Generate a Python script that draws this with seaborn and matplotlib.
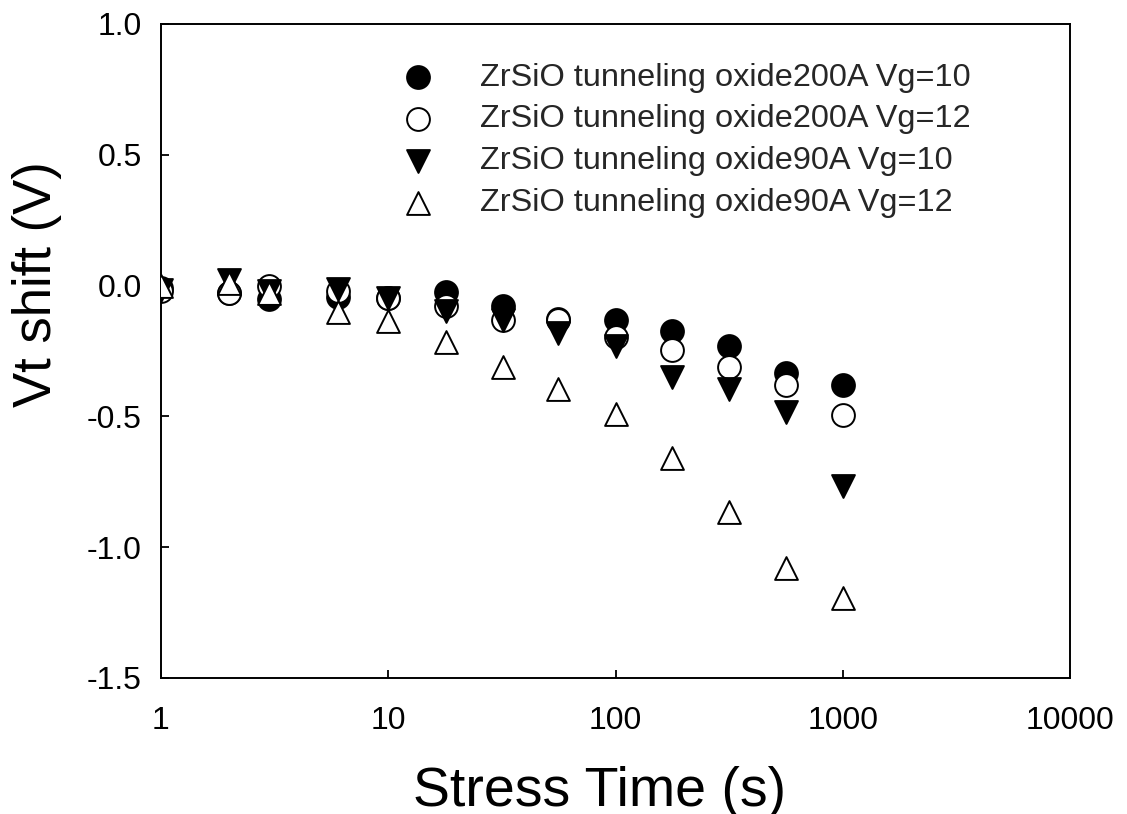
import matplotlib
matplotlib.use("Agg")
import matplotlib.pyplot as plt
import matplotlib.ticker as mticker
import numpy as np
import pandas as pd
import seaborn as sns

# Stress time (s) and threshold-voltage shift (V) for each stress condition
stress_time = [1, 2, 3, 6, 10, 18, 32, 56, 100, 178, 316, 562, 1000]
vt_200A_vg10 = [-0.01, -0.03, -0.05, -0.045, -0.047, -0.025, -0.078, -0.127, -0.132, -0.172, -0.23, -0.334, -0.38]
vt_200A_vg12 = [-0.02, -0.03, 0.0, -0.02, -0.047, -0.078, -0.13, -0.13, -0.195, -0.247, -0.31, -0.38, -0.495]
vt_90A_vg10 = [-0.015, 0.02, -0.02, -0.013, -0.047, -0.097, -0.13, -0.18, -0.23, -0.348, -0.395, -0.483, -0.765]
vt_90A_vg12 = [0.0, 0.01, -0.03, -0.10, -0.135, -0.214, -0.31, -0.395, -0.49, -0.66, -0.865, -1.08, -1.195]

labels = [
    "ZrSiO tunneling oxide200A Vg=10",
    "ZrSiO tunneling oxide200A Vg=12",
    "ZrSiO tunneling oxide90A Vg=10",
    "ZrSiO tunneling oxide90A Vg=12",
]
series = [vt_200A_vg10, vt_200A_vg12, vt_90A_vg10, vt_90A_vg12]
markers = ["o", "o", "v", "^"]
faces = ["black", "white", "black", "white"]

sns.set_theme(style="white")
plt.rcParams["font.family"] = ["Liberation Sans", "DejaVu Sans"]

fig = plt.figure(figsize=(11.27, 8.14), dpi=100)
ax = fig.add_axes([161 / 1127, 1 - 678 / 814, (1070 - 161) / 1127, (678 - 24) / 814])

for lab, vals, mk, fc in zip(labels, series, markers, faces):
    df = pd.DataFrame({"t": stress_time, "vt": vals})
    sns.scatterplot(data=df, x="t", y="vt", ax=ax, marker=mk, s=270,
                    color=fc, edgecolor="black", linewidth=1.4, label=lab,
                    zorder=3)

ax.set_xscale("log")
ax.set_xlim(1, 10000)
ax.set_ylim(-1.5, 1.0)
ax.xaxis.set_major_locator(mticker.FixedLocator([1, 10, 100, 1000, 10000]))
ax.xaxis.set_major_formatter(mticker.FixedFormatter(["1", "10", "100", "1000", "10000"]))
ax.xaxis.set_minor_locator(mticker.NullLocator())
ax.yaxis.set_major_locator(mticker.MultipleLocator(0.5))
ax.yaxis.set_major_formatter(mticker.FormatStrFormatter("%.1f"))

ax.tick_params(axis="both", which="major", direction="in", length=6, width=1.3,
               labelsize=23, color="black", labelcolor="black",
               bottom=True, left=True, top=False, right=False)
ax.tick_params(axis="x", pad=20)
ax.tick_params(axis="y", pad=14)

for sp in ax.spines.values():
    sp.set_visible(True)
    sp.set_color("black")
    sp.set_linewidth(1.4)

ax.set_xlabel("Stress Time (s)", fontsize=40, color="black")
ax.set_ylabel("Vt shift (V)", fontsize=38, color="black")
ax.xaxis.set_label_coords(0.483, -0.135)
ax.yaxis.set_label_coords(-0.109, 0.602)

leg = ax.legend(loc="upper left", bbox_to_anchor=(0.265, 0.941), frameon=False,
                fontsize=23.4, handlelength=1.0, handletextpad=1.41,
                borderpad=0, borderaxespad=0, labelspacing=0.365,
                scatterpoints=1)

fig.savefig("out.png", dpi=100)
